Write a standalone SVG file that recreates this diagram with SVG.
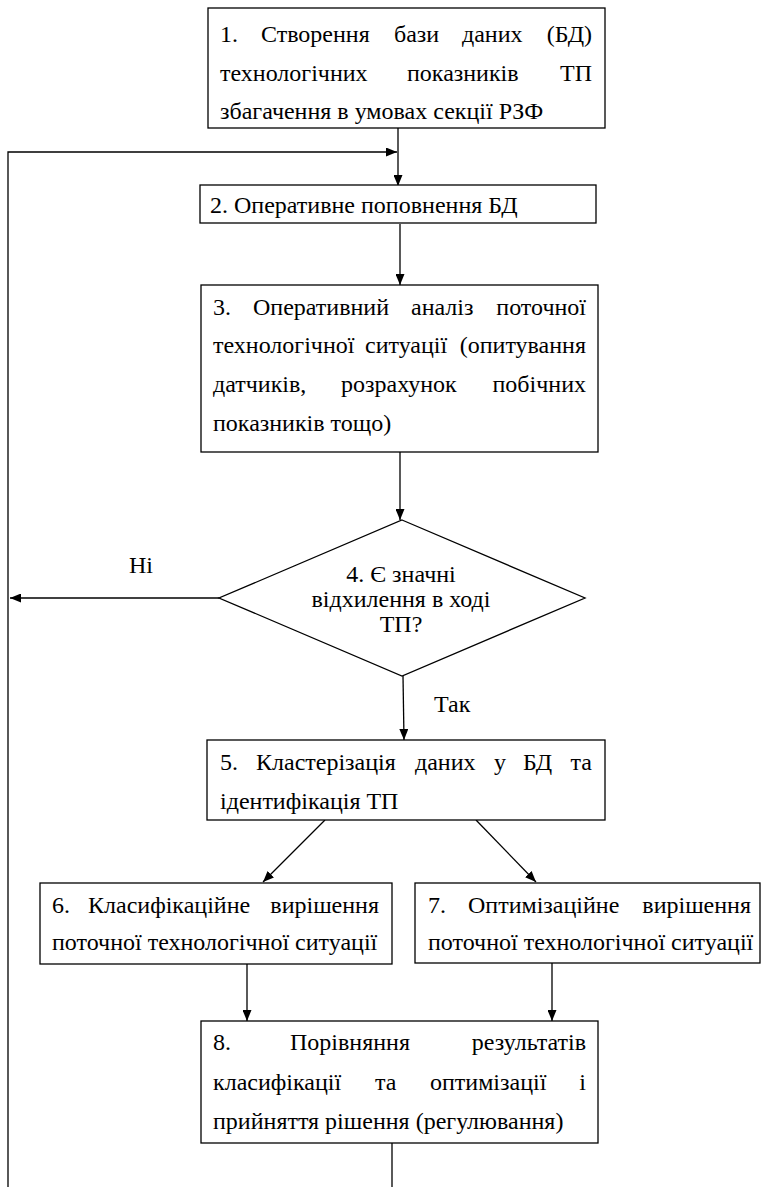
<svg xmlns="http://www.w3.org/2000/svg" width="763" height="1187" viewBox="0 0 763 1187">
  <style>
    .box { fill: #ffffff; stroke: #000000; stroke-width: 1.3; }
    .wire { fill: none; stroke: #000000; stroke-width: 1.3; }
    .t { font-family: 'Liberation Serif', 'Times New Roman', 'DejaVu Serif', serif; font-size: 24px; fill: #000000; }
    .end { text-anchor: end; }
    .mid { text-anchor: middle; }
  </style>
  <defs>
    <marker id="arrow" markerUnits="userSpaceOnUse" markerWidth="11" markerHeight="9" refX="11" refY="4.5" orient="auto">
      <path d="M0,0 L11,4.5 L0,9 z" fill="#000000"/>
    </marker>
  </defs>

  <rect x="0" y="0" width="763" height="1187" fill="#ffffff"/>

  <g class="t" font-family="Liberation Serif, DejaVu Serif, serif" font-size="24">
    <!-- connectors -->
    <g id="connectors">
      <line class="wire" x1="398" y1="128" x2="398" y2="186" marker-end="url(#arrow)"/>
      <polyline class="wire" points="392,1187 392,1143"/>
      <polyline class="wire" points="8,1187 8,152 397,152" marker-end="url(#arrow)"/>
      <line class="wire" x1="400" y1="224" x2="400" y2="285" marker-end="url(#arrow)"/>
      <line class="wire" x1="400" y1="452" x2="400" y2="520" marker-end="url(#arrow)"/>
      <line class="wire" x1="219" y1="598" x2="10" y2="598" marker-end="url(#arrow)"/>
      <line class="wire" x1="403" y1="676" x2="404" y2="740" marker-end="url(#arrow)"/>
      <line class="wire" x1="325" y1="820" x2="263" y2="882" marker-end="url(#arrow)"/>
      <line class="wire" x1="476" y1="820" x2="536" y2="882" marker-end="url(#arrow)"/>
      <line class="wire" x1="247" y1="963" x2="247" y2="1021" marker-end="url(#arrow)"/>
      <line class="wire" x1="552" y1="962" x2="552" y2="1021" marker-end="url(#arrow)"/>
      <text x="129" y="573">Ні</text>
      <text x="434" y="712">Так</text>
    </g>

    <!-- 1 -->
    <g id="node1">
      <rect class="box" x="208" y="8" width="397" height="120"/>
      <text y="42"><tspan x="220">1.</tspan><tspan x="261">Створення</tspan><tspan x="394">бази</tspan><tspan x="462">даних</tspan><tspan x="592" class="end">(БД)</tspan></text>
      <text y="81"><tspan x="220">технологічних</tspan><tspan x="407">показників</tspan><tspan x="592" class="end">ТП</tspan></text>
      <text x="220" y="119">збагачення в умовах секції РЗФ</text>
    </g>

    <!-- 2 -->
    <g id="node2">
      <rect class="box" x="200" y="185" width="396" height="38"/>
      <text x="210" y="213">2. Оперативне поповнення БД</text>
    </g>

    <!-- 3 -->
    <g id="node3">
      <rect class="box" x="201" y="285" width="397" height="167"/>
      <text y="315"><tspan x="213">3.</tspan><tspan x="253">Оперативний</tspan><tspan x="411">аналіз</tspan><tspan x="586" class="end">поточної</tspan></text>
      <text y="353"><tspan x="213">технологічної</tspan><tspan x="365">ситуації</tspan><tspan x="586" class="end">(опитування</tspan></text>
      <text y="392"><tspan x="213">датчиків,</tspan><tspan x="341">розрахунок</tspan><tspan x="586" class="end">побічних</tspan></text>
      <text x="213" y="431">показників тощо)</text>
    </g>

    <!-- 4 -->
    <g id="node4">
      <polygon class="box" points="402,520 585,598 402,676 219,598"/>
      <text class="mid" x="401" y="582">4. Є значні</text>
      <text class="mid" x="401" y="607">відхилення в ході</text>
      <text class="mid" x="401" y="632">ТП?</text>
    </g>

    <!-- 5 -->
    <g id="node5">
      <rect class="box" x="207" y="740" width="398" height="80"/>
      <text y="770"><tspan x="220">5.</tspan><tspan x="256">Кластерізація</tspan><tspan x="415">даних</tspan><tspan x="494">у</tspan><tspan x="523">БД</tspan><tspan x="592" class="end">та</tspan></text>
      <text x="220" y="809">ідентифікація ТП</text>
    </g>

    <!-- 6 -->
    <g id="node6">
      <rect class="box" x="40" y="883" width="352" height="81"/>
      <text y="913"><tspan x="52">6.</tspan><tspan x="88">Класифікаційне</tspan><tspan x="379" class="end">вирішення</tspan></text>
      <text x="52" y="950">поточної технологічної ситуації</text>
    </g>

    <!-- 7 -->
    <g id="node7">
      <rect class="box" x="415" y="883" width="345" height="80"/>
      <text y="913"><tspan x="428">7.</tspan><tspan x="468">Оптимізаційне</tspan><tspan x="751" class="end">вирішення</tspan></text>
      <text x="428" y="950">поточної технологічної ситуації</text>
    </g>

    <!-- 8 -->
    <g id="node8">
      <rect class="box" x="201" y="1021" width="397" height="122"/>
      <text y="1050"><tspan x="213">8.</tspan><tspan x="290">Порівняння</tspan><tspan x="586" class="end">результатів</tspan></text>
      <text y="1090"><tspan x="213">класифікації</tspan><tspan x="375">та</tspan><tspan x="430">оптимізації</tspan><tspan x="586" class="end">і</tspan></text>
      <text x="213" y="1129">прийняття рішення (регулювання)</text>
    </g>
  </g>
</svg>
